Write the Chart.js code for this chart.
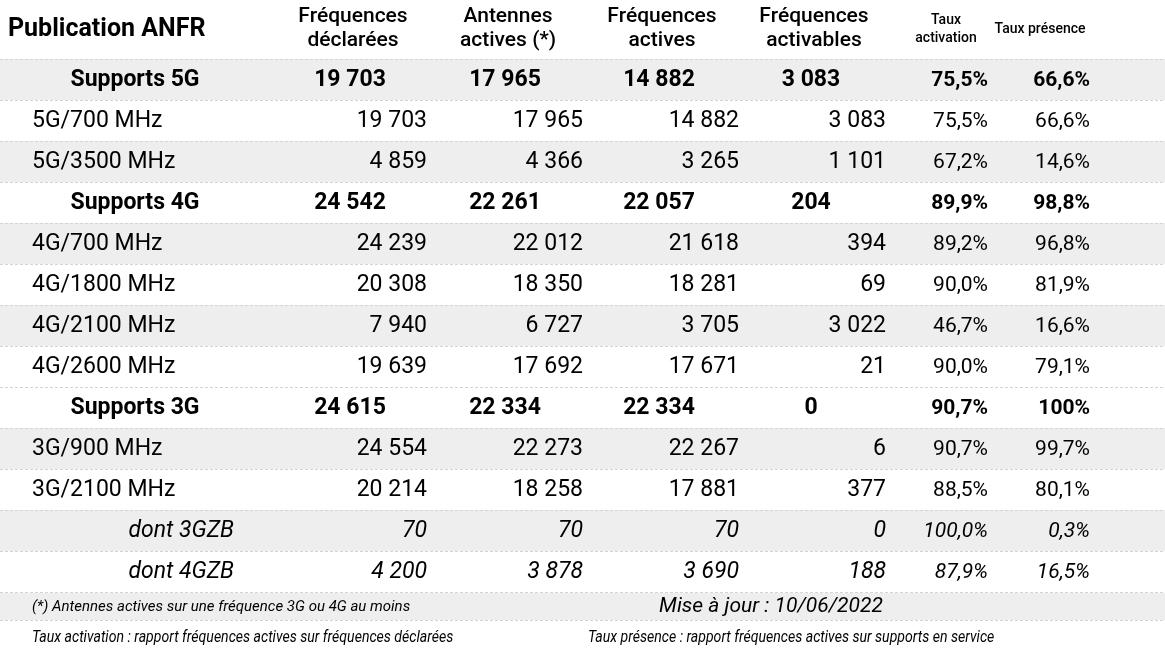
<!DOCTYPE html>
<html>
<head>
<meta charset="utf-8">
<script src="https://cdn.jsdelivr.net/npm/chart.js@4"></script>
<style>
  html, body { margin: 0; padding: 0; background: #fff; }
  #wrap { width: 1165px; height: 653px; }
</style>
</head>
<body>
<div id="wrap"><canvas id="tableChart"></canvas></div>
<script>
// Table data
const headers = [['Fréquences', 'déclarées'], ['Antennes', 'actives (*)'], ['Fréquences', 'actives'], ['Fréquences', 'activables'], ['Taux', 'activation'], ['Taux présence']];
const rowLabels = ['Supports 5G', '5G/700 MHz', '5G/3500 MHz', 'Supports 4G', '4G/700 MHz', '4G/1800 MHz', '4G/2100 MHz', '4G/2600 MHz', 'Supports 3G', '3G/900 MHz', '3G/2100 MHz', 'dont 3GZB', 'dont 4GZB'];
const rowKinds = ['total', 'band', 'band', 'total', 'band', 'band', 'band', 'band', 'total', 'band', 'band', 'sub', 'sub'];
const rowShaded = [true, false, true, false, true, false, true, false, false, true, false, true, false];
const freqDeclared = ['19 703', '19 703', '4 859', '24 542', '24 239', '20 308', '7 940', '19 639', '24 615', '24 554', '20 214', '70', '4 200'];
const antennasActive = ['17 965', '17 965', '4 366', '22 261', '22 012', '18 350', '6 727', '17 692', '22 334', '22 273', '18 258', '70', '3 878'];
const freqActive = ['14 882', '14 882', '3 265', '22 057', '21 618', '18 281', '3 705', '17 671', '22 334', '22 267', '17 881', '70', '3 690'];
const freqActivable = ['3 083', '3 083', '1 101', '204', '394', '69', '3 022', '21', '0', '6', '377', '0', '188'];
const rateActivation = ['75,5%', '75,5%', '67,2%', '89,9%', '89,2%', '90,0%', '46,7%', '90,0%', '90,7%', '90,7%', '88,5%', '100,0%', '87,9%'];
const ratePresence = ['66,6%', '66,6%', '14,6%', '98,8%', '96,8%', '81,9%', '16,6%', '79,1%', '100%', '99,7%', '80,1%', '0,3%', '16,5%'];

const columns = [freqDeclared, antennasActive, freqActive, freqActivable, rateActivation, ratePresence];
const colRight = [427, 583, 739, 886, 988, 1090];
const colCenter = [353, 508, 662, 814, 946, 1040];
const FONT = 'Roboto, "Noto Sans", sans-serif';

const tablePlugin = {
    id: 'tablePlugin',
    afterDraw(chart) {
        const ctx = chart.ctx;
        const xs = chart.scales.x;
        const ys = chart.scales.y;
        const left = xs.getPixelForValue(0);
        const right = xs.getPixelForValue(1165);
        const X = v => xs.getPixelForValue(v);
        ctx.save();

        // header
        ctx.fillStyle = '#000';
        ctx.textBaseline = 'middle';
        ctx.textAlign = 'left';
        ctx.font = 'bold 25px ' + FONT;
        ctx.fillText('Publication ANFR', X(8), 30);
        headers.forEach((h, c) => {
            const small = c >= 4;
            ctx.textAlign = 'center';
            ctx.font = (small ? '500 14px ' : '500 21px ') + FONT;
            if (h.length === 1) {
                ctx.fillText(h[0], X(colCenter[c]), 29);
            } else if (small) {
                ctx.fillText(h[0], X(colCenter[c]), 20);
                ctx.fillText(h[1], X(colCenter[c]), 38);
            } else {
                ctx.fillText(h[0], X(colCenter[c]), 17);
                ctx.fillText(h[1], X(colCenter[c]), 41);
            }
        });

        // rows
        rowLabels.forEach((label, i) => {
            const top = ys.getPixelForValue(i);
            const bottom = ys.getPixelForValue(i + 1);
            const mid = (top + bottom) / 2 + 1;
            if (rowShaded[i]) {
                ctx.fillStyle = '#eeeeee';
                ctx.fillRect(left, top, right - left, bottom - top);
            }
            ctx.fillStyle = '#000';
            const kind = rowKinds[i];
            if (kind === 'total') {
                ctx.font = 'bold 23px ' + FONT;
                ctx.textAlign = 'center';
                ctx.fillText(label, X(135), mid);
                columns.forEach((col, c) => {
                    if (c >= 4) {
                        ctx.font = 'bold 21px ' + FONT;
                        ctx.textAlign = 'right';
                        ctx.fillText(col[i], X(colRight[c]), mid);
                    } else {
                        ctx.font = 'bold 23px ' + FONT;
                        ctx.textAlign = 'center';
                        ctx.fillText(col[i], X(colCenter[c] - 3), mid);
                    }
                });
            } else {
                const it = kind === 'sub' ? 'italic ' : '';
                ctx.font = it + '23px ' + FONT;
                ctx.textAlign = kind === 'sub' ? 'right' : 'left';
                ctx.fillText(label, kind === 'sub' ? X(234) : X(32), mid);
                columns.forEach((col, c) => {
                    ctx.font = it + (c >= 4 ? '21px ' : '23px ') + FONT;
                    ctx.textAlign = 'right';
                    ctx.fillText(col[i], X(colRight[c]), mid);
                });
            }
        });

        // dashed separators
        ctx.strokeStyle = '#d4d4d4';
        ctx.lineWidth = 1;
        ctx.setLineDash([3, 2]);
        for (let i = 0; i <= rowLabels.length; i++) {
            const y = Math.round(ys.getPixelForValue(i)) + 0.5;
            ctx.beginPath();
            ctx.moveTo(left, y);
            ctx.lineTo(right, y);
            ctx.stroke();
        }
        const footTop = ys.getPixelForValue(rowLabels.length);
        ctx.beginPath();
        ctx.moveTo(left, footTop + 28.5);
        ctx.lineTo(right, footTop + 28.5);
        ctx.stroke();
        ctx.setLineDash([]);

        // footer
        ctx.fillStyle = '#eeeeee';
        ctx.fillRect(left, footTop + 1, right - left, 27);
        ctx.fillStyle = '#000';
        ctx.textAlign = 'left';
        ctx.font = 'italic 15px ' + FONT;
        ctx.fillText('(*) Antennes actives sur une fréquence 3G ou 4G au moins', X(32), footTop + 15);
        ctx.textAlign = 'center';
        ctx.font = 'italic 21px ' + FONT;
        ctx.fillText('Mise à jour : 10/06/2022', X(771), footTop + 15);
        ctx.font = 'italic 16px ' + FONT;
        ctx.save();
        ctx.translate(X(32), footTop + 46);
        ctx.scale(0.88, 1);
        ctx.textAlign = 'left';
        ctx.fillText('Taux activation : rapport fréquences actives sur fréquences déclarées', 0, 0);
        ctx.restore();
        ctx.save();
        ctx.translate(X(588), footTop + 46);
        ctx.scale(0.88, 1);
        ctx.textAlign = 'left';
        ctx.fillText('Taux présence : rapport fréquences actives sur supports en service', 0, 0);
        ctx.restore();

        ctx.restore();
    }
};

new Chart(document.getElementById('tableChart'), {
    type: 'scatter',
    data: { datasets: [{ data: [] }] },
    options: {
        responsive: true,
        maintainAspectRatio: false,
        animation: false,
        layout: { padding: 0 },
        plugins: { legend: { display: false }, tooltip: { enabled: false } },
        scales: {
            x: { type: 'linear', min: 0, max: 1165, display: false },
            y: { type: 'linear', reverse: true, min: -59 / 41, max: (653 - 59) / 41, display: false }
        }
    },
    plugins: [tablePlugin]
});
</script>
</body>
</html>
